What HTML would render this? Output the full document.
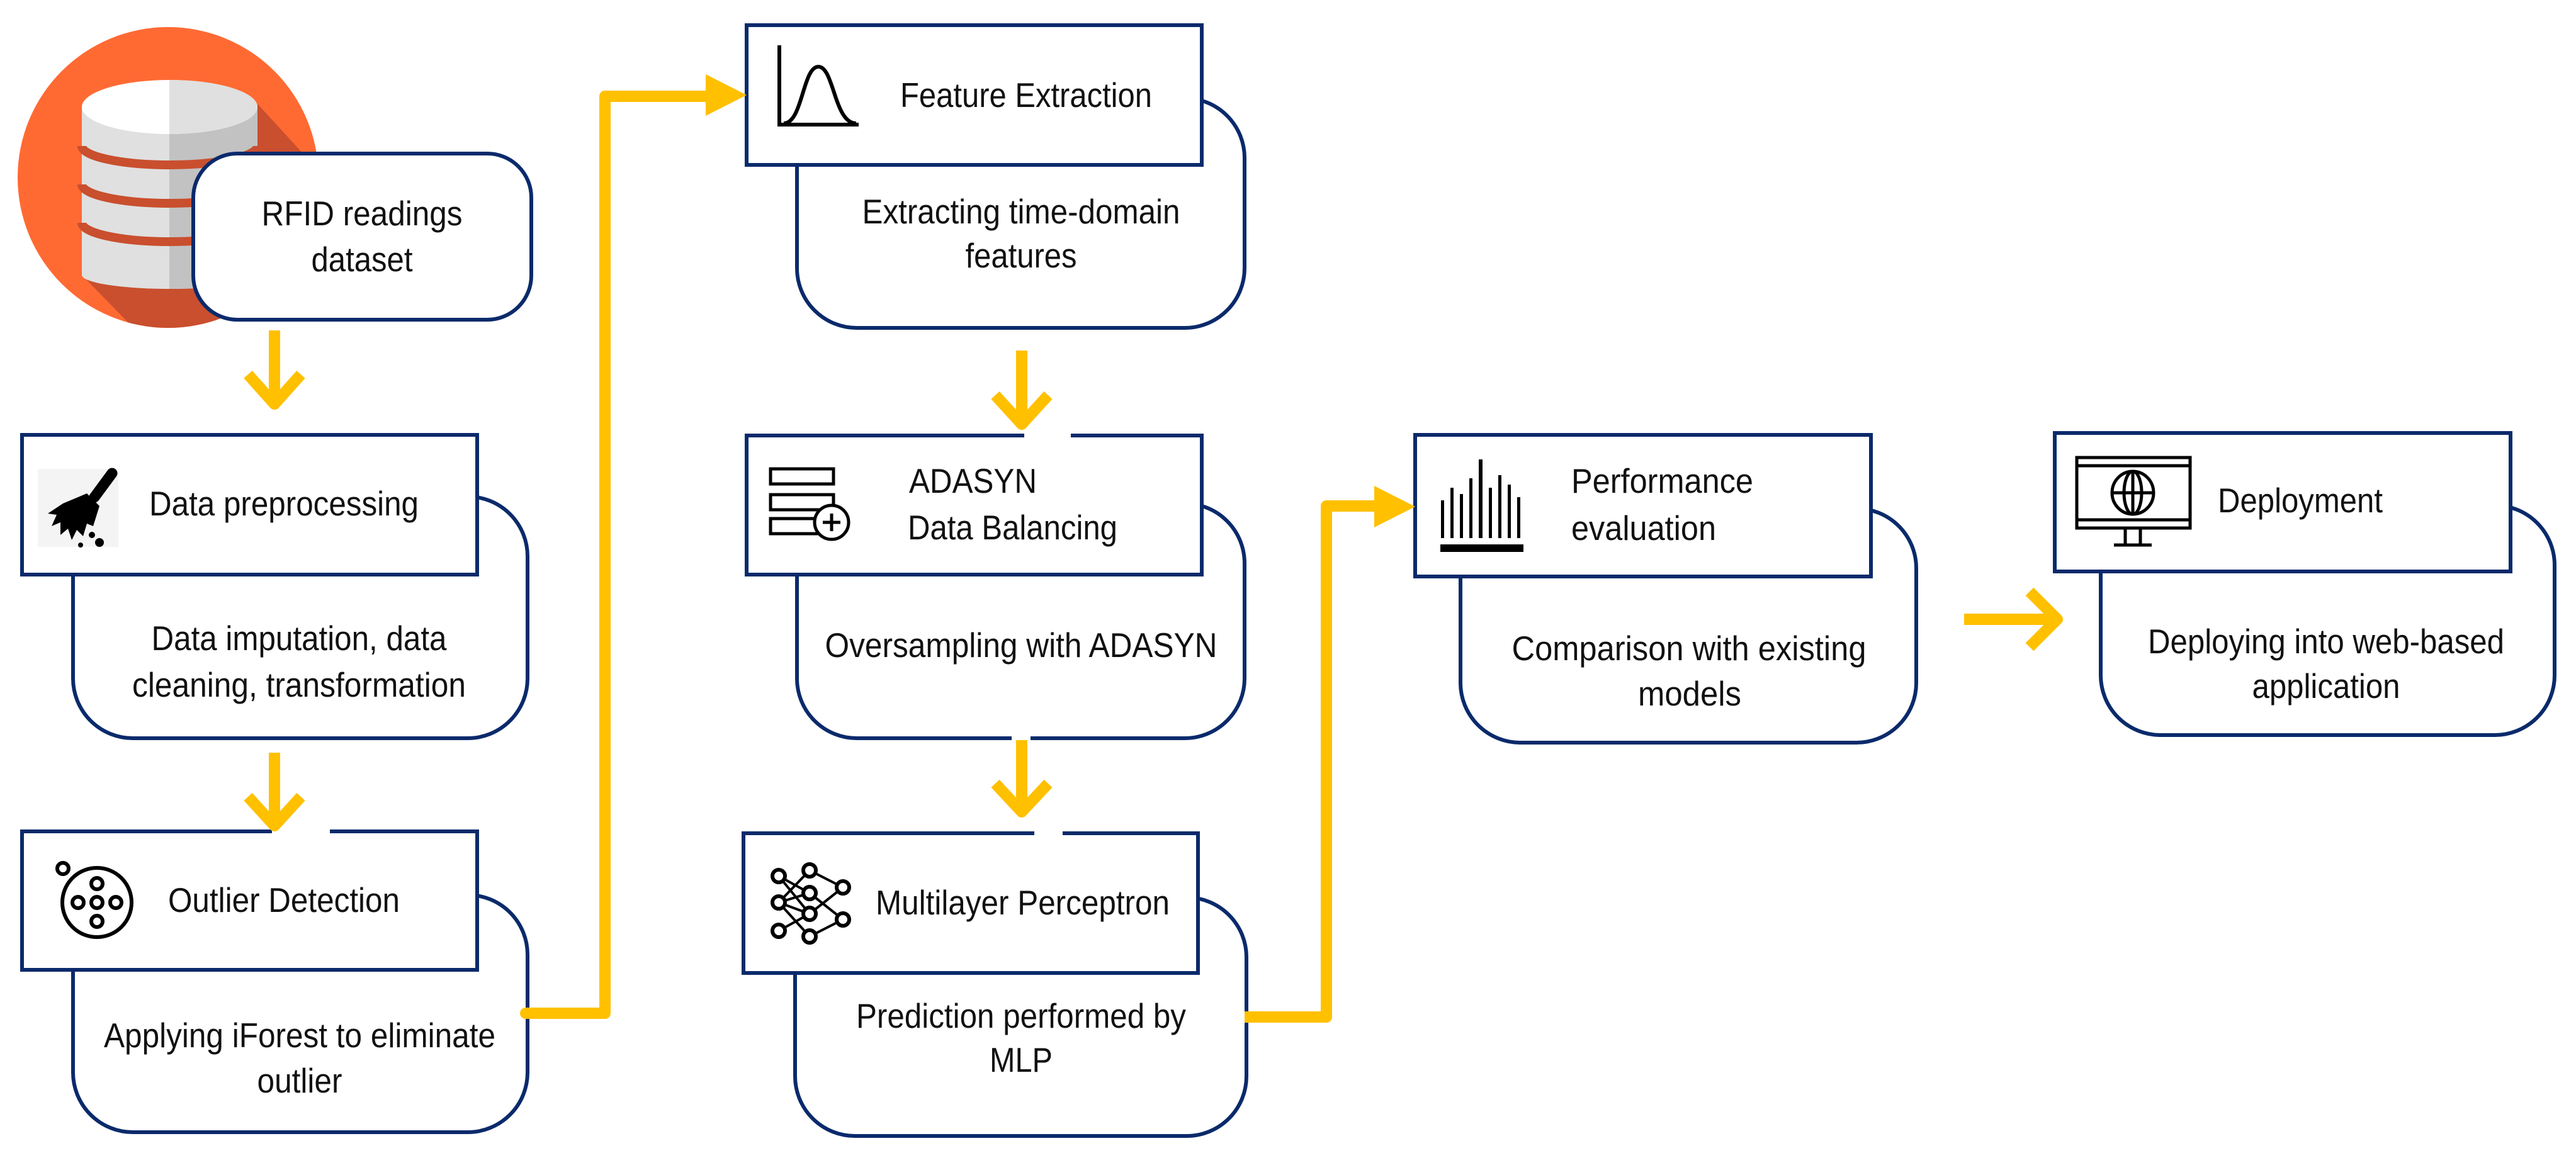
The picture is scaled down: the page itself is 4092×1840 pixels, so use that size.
<!DOCTYPE html>
<html><head><meta charset="utf-8"><style>
html,body{margin:0;padding:0;background:#fff}
svg{display:block}
text{font-family:"Liberation Sans",Arial,sans-serif;font-size:55px;fill:#111}
</style></head><body>
<svg width="4092" height="1840" viewBox="0 0 4092 1840" xmlns="http://www.w3.org/2000/svg">
<defs>
<clipPath id="cc"><circle cx="267" cy="282" r="239"/></clipPath>
</defs>
<circle cx="267" cy="282" r="239" fill="#FF6A33"/>
<polygon clip-path="url(#cc)" fill="#C94F2E" points="409,165 560,330 560,560 250,560 130,437 409,437"/>
<path d="M130,170 V437 A139.5,22 0 0 0 409,437 V170 Z" fill="#E0E0E0"/>
<path d="M269,170 V459 A139.5,22 0 0 0 409,437 V170 Z" fill="#C2C2C2"/>
<path d="M130,232 A139.5,30 0 0 0 409,232" fill="none" stroke="#C94F2E" stroke-width="14"/>
<path d="M130,293 A139.5,30 0 0 0 409,293" fill="none" stroke="#C94F2E" stroke-width="14"/>
<path d="M130,354 A139.5,30 0 0 0 409,354" fill="none" stroke="#C94F2E" stroke-width="14"/>
<ellipse cx="269.5" cy="170" rx="139.5" ry="43" fill="#fff"/>
<path d="M269,127 A139.5,43 0 0 1 409,170 A139.5,43 0 0 1 269,213 Z" fill="#E0E0E0"/>

<rect x="307" y="244" width="537" height="264" rx="70" fill="#fff" stroke="#0A2A6B" stroke-width="6"/>
<text x="575" y="358" text-anchor="middle" textLength="319" lengthAdjust="spacingAndGlyphs">RFID readings</text>
<text x="575" y="431" text-anchor="middle" textLength="161" lengthAdjust="spacingAndGlyphs">dataset</text>

<g fill="#fff" stroke="#0A2A6B" stroke-width="6">
<rect x="116" y="789" width="722" height="384" rx="95"/>
<rect x="116" y="1422" width="722" height="377" rx="95"/>
<rect x="1266" y="156" width="711" height="365" rx="95"/>
<rect x="1266" y="800" width="711" height="373" rx="95"/>
<rect x="1263" y="1426" width="717" height="379" rx="95"/>
<rect x="2320" y="808" width="724" height="372" rx="95"/>
<rect x="3337" y="803" width="721" height="365" rx="95"/>
<rect x="35" y="691" width="723" height="222"/>
<rect x="35" y="1321" width="723" height="220"/>
<rect x="1186" y="40" width="723" height="222"/>
<rect x="1186" y="692" width="723" height="221"/>
<rect x="1181" y="1324" width="722" height="222"/>
<rect x="2248" y="691" width="724" height="225"/>
<rect x="3264" y="688" width="724" height="220"/>
</g>
<rect x="432" y="1316" width="92" height="10" fill="#fff"/>
<rect x="1627" y="687" width="74" height="10" fill="#fff"/>
<rect x="1643" y="1319" width="45" height="10" fill="#fff"/>
<rect x="1607" y="1169" width="30" height="10" fill="#fff"/>

<text x="237" y="819" textLength="428" lengthAdjust="spacingAndGlyphs">Data preprocessing</text>
<text x="475" y="1033" text-anchor="middle" textLength="469" lengthAdjust="spacingAndGlyphs">Data imputation, data</text>
<text x="475" y="1107" text-anchor="middle" textLength="530" lengthAdjust="spacingAndGlyphs">cleaning, transformation</text>
<text x="267" y="1449" textLength="368" lengthAdjust="spacingAndGlyphs">Outlier Detection</text>
<text x="476" y="1664" text-anchor="middle" textLength="622" lengthAdjust="spacingAndGlyphs">Applying iForest to eliminate</text>
<text x="476" y="1736" text-anchor="middle" textLength="135" lengthAdjust="spacingAndGlyphs">outlier</text>
<text x="1430" y="170" textLength="400" lengthAdjust="spacingAndGlyphs">Feature Extraction</text>
<text x="1622" y="355" text-anchor="middle" textLength="505" lengthAdjust="spacingAndGlyphs">Extracting time-domain</text>
<text x="1622" y="425" text-anchor="middle" textLength="177" lengthAdjust="spacingAndGlyphs">features</text>
<text x="1444" y="783" textLength="203" lengthAdjust="spacingAndGlyphs">ADASYN</text>
<text x="1442" y="857" textLength="333" lengthAdjust="spacingAndGlyphs">Data Balancing</text>
<text x="1622" y="1044" text-anchor="middle" textLength="623" lengthAdjust="spacingAndGlyphs">Oversampling with ADASYN</text>
<text x="1391" y="1453" textLength="467" lengthAdjust="spacingAndGlyphs">Multilayer Perceptron</text>
<text x="1622" y="1633" text-anchor="middle" textLength="524" lengthAdjust="spacingAndGlyphs">Prediction performed by</text>
<text x="1622" y="1703" text-anchor="middle" textLength="100" lengthAdjust="spacingAndGlyphs">MLP</text>
<text x="2496" y="783" textLength="289" lengthAdjust="spacingAndGlyphs">Performance</text>
<text x="2496" y="858" textLength="230" lengthAdjust="spacingAndGlyphs">evaluation</text>
<text x="2683" y="1049" text-anchor="middle" textLength="563" lengthAdjust="spacingAndGlyphs">Comparison with existing</text>
<text x="2684" y="1121" text-anchor="middle" textLength="164" lengthAdjust="spacingAndGlyphs">models</text>
<text x="3523" y="814" textLength="262" lengthAdjust="spacingAndGlyphs">Deployment</text>
<text x="3695" y="1038" text-anchor="middle" textLength="566" lengthAdjust="spacingAndGlyphs">Deploying into web-based</text>
<text x="3695" y="1109" text-anchor="middle" textLength="235" lengthAdjust="spacingAndGlyphs">application</text>

<!-- broom -->
<rect x="60" y="745" width="128" height="124" fill="#f4f4f4"/>
<g fill="#000">
<path d="M178,752 L150,790" stroke="#000" stroke-width="17" stroke-linecap="round"/>
<path d="M138,784 L158,804 L148,836 L138,832 L132,852 L122,842 L114,858 L108,840 L96,850 L96,830 L82,836 L90,818 L76,816 L100,800 Z"/>
<circle cx="158" cy="862" r="7"/><circle cx="146" cy="850" r="5"/><circle cx="128" cy="866" r="4"/>
</g>
<g fill="none" stroke="#000" stroke-width="6">
<circle cx="154" cy="1434" r="55"/>
<circle cx="100" cy="1380" r="9"/>
<circle cx="154" cy="1404" r="9"/><circle cx="154" cy="1464" r="9"/>
<circle cx="124" cy="1434" r="9"/><circle cx="154" cy="1434" r="9"/><circle cx="184" cy="1434" r="9"/>
</g>
<g fill="none" stroke="#000" stroke-width="6">
<path d="M1238,72 V198 H1364"/>
<path d="M1245,196 C1275,196 1275,106 1300,106 C1325,106 1325,196 1360,196"/>
</g>
<g fill="none" stroke="#000" stroke-width="5">
<rect x="1224" y="745" width="100" height="24"/>
<rect x="1224" y="786" width="100" height="24"/>
<rect x="1224" y="824" width="100" height="24"/>
<circle cx="1321" cy="830" r="27" fill="#fff"/>
<path d="M1321,816 V844 M1307,830 H1335"/>
</g>
<g stroke="#000" stroke-width="4" fill="none">
<path d="M1237,1392 L1286,1419 L1237,1434 L1286,1383 L1339,1410 L1286,1452 L1237,1434 L1286,1488 L1339,1461 L1286,1419 M1237,1479 L1286,1452 M1237,1392 L1286,1452 M1286,1419 L1339,1461 M1237,1434 L1286,1383 M1286,1488 L1339,1461 M1286,1452 L1339,1410"/>
</g>
<g stroke="#000" stroke-width="6" fill="#fff">
<circle cx="1237" cy="1392" r="10"/><circle cx="1237" cy="1434" r="10"/><circle cx="1237" cy="1479" r="10"/>
<circle cx="1286" cy="1383" r="10"/><circle cx="1286" cy="1419" r="10"/><circle cx="1286" cy="1452" r="10"/><circle cx="1286" cy="1488" r="10"/>
<circle cx="1339" cy="1410" r="10"/><circle cx="1339" cy="1461" r="10"/>
</g>
<g fill="#000">
<rect x="2289" y="795" width="5" height="60"/>
<rect x="2304" y="775" width="5" height="80"/>
<rect x="2319" y="785" width="5" height="70"/>
<rect x="2334" y="760" width="5" height="95"/>
<rect x="2349" y="730" width="6" height="125"/>
<rect x="2365" y="775" width="5" height="80"/>
<rect x="2380" y="755" width="5" height="100"/>
<rect x="2395" y="770" width="5" height="85"/>
<rect x="2410" y="790" width="5" height="65"/>
<rect x="2288" y="865" width="132" height="12"/>
</g>
<g fill="none" stroke="#000" stroke-width="5">
<rect x="3299" y="727" width="180" height="112"/>
<path d="M3299,740 H3479 M3299,826 H3479"/>
<ellipse cx="3388" cy="783" rx="33" ry="34"/>
<path d="M3388,749 V817 M3355,783 H3421"/>
<ellipse cx="3388" cy="783" rx="14" ry="34"/>
<path d="M3376,839 V866 M3400,839 V866 M3358,866 H3418"/>
</g>

<g fill="none" stroke="#FFC000" stroke-width="18" stroke-linejoin="round" stroke-linecap="butt">
<path d="M835,1610 H961 V153 H1125" stroke-linecap="round"/>
<path d="M1977,1616 H2107 V804 H2190"/>
<path d="M436,525 V640 M394,595 L436,642 L478,595"/>
<path d="M436,1196 V1310 M394,1266 L436,1312 L478,1266"/>
<path d="M1623,557 V672 M1581,628 L1623,674 L1665,628"/>
<path d="M1623,1176 V1288 M1581,1245 L1623,1290 L1665,1245"/>
<path d="M3120,984 H3266 M3224,940 L3268,984 L3224,1028"/>
</g>
<polygon fill="#FFC000" points="1121,118 1186,151 1121,184"/>
<polygon fill="#FFC000" points="2183,772 2248,805 2183,838"/>
</svg>
</body></html>
